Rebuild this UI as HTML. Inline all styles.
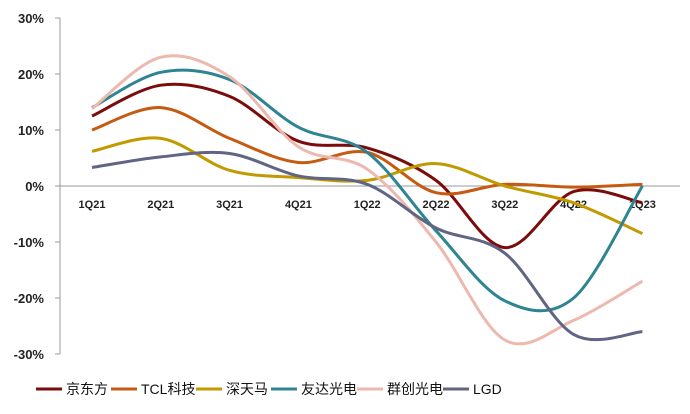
<!DOCTYPE html>
<html><head><meta charset="utf-8"><style>
body{margin:0;background:#fff;}
svg text{font-family:"Liberation Sans","Noto Sans CJK SC",sans-serif;}
</style></head><body>
<svg id="c" width="690" height="409" xmlns="http://www.w3.org/2000/svg"></svg>
<script>
const categories=["1Q21","2Q21","3Q21","4Q21","1Q22","2Q22","3Q22","4Q22","1Q23"];
const yTicks=[30,20,10,0,-10,-20,-30];
const seriesNames=["京东方","TCL科技","深天马","友达光电","群创光电","LGD"];
const boe=[12.5,18,16,8,6.8,1,-11,-1,-3];
const tcl=[10,14,8.5,4.2,6,-1.2,0.3,-0.2,0.3];
const tianma=[6.2,8.5,2.8,1.5,1.0,4,0,-3,-8.5];
const auo=[14,20.3,19,10.5,6,-8,-20.5,-20,0];
const innolux=[13.8,23,19.5,7,3,-10,-27.5,-24,-17];
const lgd=[3.3,5.2,5.8,1.8,0.3,-7.5,-12,-26.5,-26];
const colors=["#7B0C0C","#C55A11","#C09A00","#2E8491","#EDB8AE","#5F6582"];
const series=[boe,tcl,tianma,auo,innolux,lgd];
const ns="http://www.w3.org/2000/svg",svg=document.getElementById('c');
const y=v=>186-v*5.6, x=i=>92+i*68.8;
function mk(t,a){const e=document.createElementNS(ns,t);for(const k in a)e.setAttribute(k,a[k]);svg.appendChild(e);return e;}
let ax=mk('line',{x1:60,y1:18,x2:60,y2:354,stroke:'#999','stroke-width':1});


let x0=mk('line',{x1:60,y1:186,x2:680,y2:186,stroke:'#999','stroke-width':1});


yTicks.forEach(v=>{
 const t=mk('text',{x:44,y:y(v)+5,'text-anchor':'end','font-size':13,'font-weight':'bold',fill:'#222'});t.textContent=v+'%';
 
 
 const tk=mk('line',{x1:55,y1:y(v),x2:60,y2:y(v),stroke:'#999'});
 
 
});
categories.forEach((c,i)=>{
 const t=mk('text',{x:x(i),y:208,'text-anchor':'middle','font-size':11,'font-weight':'bold',fill:'#222'});t.textContent=c;
 
 
});
function path(d){
 const p=d.map((v,i)=>[x(i),y(v)]);let s=`M${p[0][0]},${p[0][1]}`;
 for(let i=0;i<p.length-1;i++){const a=p[Math.max(0,i-1)],b=p[i],c=p[i+1],e=p[Math.min(p.length-1,i+2)];
  s+=` C${b[0]+(c[0]-a[0])/6},${b[1]+(c[1]-a[1])/6} ${c[0]-(e[0]-b[0])/6},${c[1]-(e[1]-b[1])/6} ${c[0]},${c[1]}`;}
 return s;}
series.forEach((d,k)=>{
 const l=mk('path',{d:path(d),fill:'none',stroke:colors[k],'stroke-width':3});
 
 
});
const lx=[36,111,196,271,357,443];
seriesNames.forEach((n,k)=>{
 const l=mk('line',{x1:lx[k],y1:389,x2:lx[k]+26,y2:389,stroke:colors[k],'stroke-width':3});
 
 
 const t=mk('text',{x:lx[k]+30,y:394,'font-size':14,fill:'#111'});t.textContent=n;
 
 
});
</script>
</body></html>
